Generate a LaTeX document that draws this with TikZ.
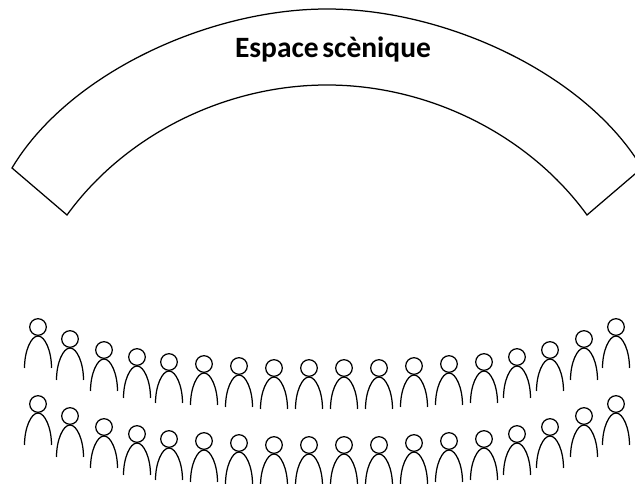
\documentclass[tikz,border=0pt]{standalone}
\usepackage{fontspec}
\setmainfont[WordSpace=0.55]{Carlito}
\usetikzlibrary{positioning}
\tikzset{
  outline/.style={draw=black, line width=1.25pt},
  person/.pic={
    \draw[outline] (0,0) circle[radius=8.3];
    \draw[outline] (-13.5,-41) .. controls (-13.5,-24) and (-7,-9) .. (0,-9)
      .. controls (7,-9) and (13.5,-24) .. (13.5,-41);
  },
}

\begin{document}
\begin{tikzpicture}[
  x=1pt, y=1pt,
  title/.style={font=\fontsize{29.5}{32}\selectfont\bfseries, anchor=base},
]
  \useasboundingbox (0,0) rectangle (635,484);
  % stage band
  \draw[outline, line join=miter]
    (12,316) .. controls (68,410) and (208,475) .. (327,475)
    .. controls (446,475) and (586,410) .. (642,316)
    -- (587,269) .. controls (529,349) and (429,399) .. (327,399)
    .. controls (225,399) and (125,349) .. (67,269) -- cycle;
  \node[title] (stage) at (333,426) {Espace scènique};
  % two rows of audience
  \foreach \x/\y in {38/157,70/145,104/134,137/127,169/122,204/120,239/118,274/116,309/116,
                     344/116,379/116,414/118,449/120,484/122,517/127,550/134,584/145,616/157} {
    \pic at (\x,\y) {person};
    \pic at (\x,\y-77) {person};
  }
\end{tikzpicture}
\end{document}
